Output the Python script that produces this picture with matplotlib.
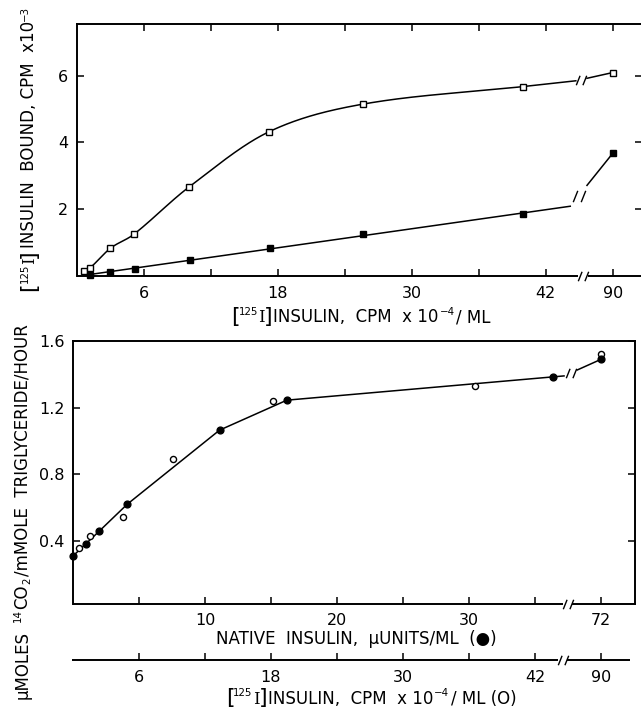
import numpy as np
import matplotlib
matplotlib.use("Agg")
import matplotlib.pyplot as plt
from matplotlib.path import Path
import matplotlib.transforms as mtransforms

plt.rcParams['font.family'] = ['DejaVu Sans']

# ---------------- data ----------------
# top panel: [125I]insulin added (CPM x 1e-4/ML) vs bound (CPM x 1e-3)
top_open_x = [0.6, 1.2, 3.0, 5.1, 10.0, 17.2, 25.6, 40.0, 90.0]
top_open_y = [0.15, 0.24, 0.82, 1.24, 2.65, 4.32, 5.15, 5.68, 6.10]
top_filled_x = [1.2, 3.0, 5.2, 10.1, 17.3, 25.6, 40.0, 90.0]
top_filled_y = [0.02, 0.12, 0.19, 0.47, 0.82, 1.25, 1.84, 3.67]
top_xticks = [6, 12, 18, 24, 30, 36, 42, 90]
top_xticklabels = ['6', '', '18', '', '30', '', '42', '90']
top_yticks = [2, 4, 6]

# bottom panel: 14CO2 production
native_x = [0.0, 1.0, 2.0, 4.1, 11.1, 16.2, 36.4, 72.0]
native_y = [0.31, 0.385, 0.46, 0.62, 1.065, 1.245, 1.385, 1.49]
iodo_x = [0.55, 1.5, 4.5, 9.1, 18.2, 36.5, 90.0]
iodo_y = [0.36, 0.43, 0.545, 0.89, 1.24, 1.33, 1.52]
native_xticks = [5, 10, 15, 20, 25, 30, 35, 72]
native_xticklabels = ['', '10', '', '20', '', '30', '', '72']
iodo_xticks = [6, 12, 18, 24, 30, 36, 42, 90]
iodo_xticklabels = ['6', '', '18', '', '30', '', '42', '90']
bottom_yticks = [0.4, 0.8, 1.2, 1.6]

# ---------------- axis-break position mappings ----------------
TOP_BREAK, TOP_POST = 45.0, 48.0
NAT_BREAK, NAT_POST = 37.5, 40.0
IOD_SCALE = 5.0 / 6.0


def top_pos(v):
    v = np.asarray(v, float)
    return np.where(v <= TOP_BREAK, v, TOP_POST)


def nat_pos(v):
    v = np.asarray(v, float)
    return np.where(v <= NAT_BREAK, v, NAT_POST)


def iod_pos(v):
    v = np.asarray(v, float)
    return np.where(v <= TOP_BREAK, v * IOD_SCALE, NAT_POST)


def smooth_curve(x, y, xn):
    """cubic Hermite with centred-difference slopes (Catmull-Rom style)"""
    x = np.asarray(x, float); y = np.asarray(y, float)
    n = len(x); h = np.diff(x)
    m = np.zeros(n)
    m[0] = (y[1] - y[0]) / h[0]
    m[-1] = (y[-1] - y[-2]) / h[-1]
    for k in range(1, n - 1):
        m[k] = (y[k + 1] - y[k - 1]) / (x[k + 1] - x[k - 1])
    out = np.empty_like(xn)
    for i, t in enumerate(xn):
        k = min(max(np.searchsorted(x, t) - 1, 0), n - 2)
        s = (t - x[k]) / h[k]
        h00 = 2 * s**3 - 3 * s**2 + 1
        h10 = s**3 - 2 * s**2 + s
        h01 = -2 * s**3 + 3 * s**2
        h11 = s**3 - s**2
        out[i] = h00 * y[k] + h10 * h[k] * m[k] + h01 * y[k + 1] + h11 * h[k] * m[k + 1]
    return out


brk_path = Path([(-0.55, -0.5), (-0.15, 0.5), (0.15, -0.5), (0.55, 0.5)],
                [Path.MOVETO, Path.LINETO, Path.MOVETO, Path.LINETO])

W, H = 641, 713
fig = plt.figure(figsize=(W / 100, H / 100), dpi=100)
fig.patch.set_facecolor('white')
renderer = fig.canvas.get_renderer()
IDT = mtransforms.IdentityTransform()


def fx(px):
    return px / W


def fy(py):
    return 1 - py / H


LABEL_FS = 12
BIG = dict(fontsize=16, family='DejaVu Sans')
SUP = dict(fontsize=7.4, family='DejaVu Sans')
REG = dict(fontsize=LABEL_FS, family='DejaVu Sans')
SER = dict(fontsize=LABEL_FS, family='DejaVu Serif')


def rich_label(pieces, base_px, center_px, rotation=0):
    """pieces: (text, props, raise_px, gap_px). base_px = baseline (y px for
    horizontal, x px for vertical); center_px = centre along the text."""
    objs, lens = [], []
    for s, props, rz, gap in pieces:
        t = fig.text(0, 0, s, transform=IDT, rotation=rotation, rotation_mode='anchor',
                     ha='left', va='baseline', **props)
        bb = t.get_window_extent(renderer)
        objs.append(t)
        lens.append(bb.width if rotation == 0 else bb.height)
    total = sum(lens) + sum(p[3] for p in pieces[:-1])
    if rotation == 0:
        pos = center_px - total / 2
        for t, L, (s, props, rz, gap) in zip(objs, lens, pieces):
            t.set_position((pos, H - base_px + rz))
            pos += L + gap
    else:
        pos = (H - center_px) - total / 2
        for t, L, (s, props, rz, gap) in zip(objs, lens, pieces):
            t.set_position((base_px - rz, pos))
            pos += L + gap


def iodo_prefix():
    return [('[', BIG, -0.5, -1.5), ('125', SUP, 7.0, 0.3), ('I', SER, 0, -0.5), (']', BIG, -0.5, 0.5)]


LW_SPINE = 1.4
LW_LINE = 1.1
TICK_KW = dict(direction='in', length=4.7, width=1.1, labelsize=11.5, colors='black')

# ================= TOP PANEL =================
ax1 = fig.add_axes([fx(77), fy(275.5), fx(642 - 77), (275.5 - 24) / H])
ax1.set_xlim(0, 50.63)
ax1.set_ylim(0, 7.56)
for s in ['left', 'top']:
    ax1.spines[s].set_linewidth(LW_SPINE)
ax1.spines['right'].set_visible(False)
ax1.spines['bottom'].set_visible(False)
ax1.tick_params(axis='both', which='both', top=True, right=True, **TICK_KW)
ax1.tick_params(axis='x', pad=7.5)
ax1.tick_params(axis='y', pad=6.5)
ax1.set_xticks(top_pos(top_xticks), top_xticklabels)
ax1.set_yticks(top_yticks, [str(v) for v in top_yticks])

trans1 = mtransforms.blended_transform_factory(ax1.transData, ax1.transAxes)
ax_gap1 = (44.9, 45.8)
ax1.plot([0, ax_gap1[0]], [0, 0], color='black', lw=LW_SPINE, transform=trans1, clip_on=False, solid_capstyle='butt')
ax1.plot([ax_gap1[1], 50.63], [0, 0], color='black', lw=LW_SPINE, transform=trans1, clip_on=False, solid_capstyle='butt')
ax1.plot([np.mean(ax_gap1)], [0], marker=brk_path, ms=7.5, mew=1.0, color='black', transform=trans1,
         clip_on=False, linestyle='none')

line_gap1 = (44.7, 45.7)

# open squares: smooth curve
ox = top_pos(top_open_x); oy = np.asarray(top_open_y)
pre = ox < TOP_BREAK
slope_o = (oy[pre][-1] - oy[pre][-2]) / (ox[pre][-1] - ox[pre][-2])
end_o = oy[pre][-1] + slope_o * (line_gap1[0] - ox[pre][-1])
cx = np.append(ox[pre], line_gap1[0]); cy = np.append(oy[pre], end_o)
xs = np.linspace(cx[0], cx[-1], 500)
ax1.plot(xs, smooth_curve(cx, cy, xs), color='black', lw=LW_LINE, zorder=2)
post_o = end_o + (oy[-1] - end_o) * (line_gap1[1] - line_gap1[0]) / (ox[-1] - line_gap1[0])
ax1.plot([line_gap1[1], ox[-1]], [post_o, oy[-1]], color='black', lw=LW_LINE, zorder=2)
ax1.plot([np.mean(line_gap1)], [(end_o + post_o) / 2], marker=brk_path, ms=7.5, mew=1.0,
         color='black', linestyle='none', zorder=2)

# filled squares: fitted straight line
fxp = top_pos(top_filled_x); fyp = np.asarray(top_filled_y)
pre = fxp < TOP_BREAK
coef = np.polyfit(fxp[pre], fyp[pre], 1)
gap_f = (44.2, 45.7)
end_f = np.polyval(coef, gap_f[0])
ax1.plot([fxp[0], gap_f[0]], [np.polyval(coef, fxp[0]), end_f], color='black', lw=LW_LINE, zorder=2)
post_f = end_f + (fyp[-1] - end_f) * (gap_f[1] - gap_f[0]) / (fxp[-1] - gap_f[0])
ax1.plot([gap_f[1], fxp[-1]], [post_f, fyp[-1]], color='black', lw=LW_LINE, zorder=2)
ax1.plot([np.mean(gap_f)], [(end_f + post_f) / 2], marker=brk_path, ms=9, mew=1.0,
         color='black', linestyle='none', zorder=2)

ax1.plot(ox, oy, linestyle='none', marker='s', ms=4.6, mfc='white', mec='black', mew=1.0, zorder=3, clip_on=False)
ax1.plot(fxp, fyp, linestyle='none', marker='s', ms=4.6, mfc='black', mec='black', mew=1.0, zorder=4, clip_on=False)

rich_label(iodo_prefix() + [('INSULIN,  CPM  x 10', REG, 0, 0.8), ('\u22124', SUP, 7.0, 1.5),
                            ('/ ML', REG, 0, 0)], base_px=322, center_px=361)
rich_label(iodo_prefix() + [('INSULIN  BOUND, CPM  x10', REG, 0, 0.8), ('\u22123', SUP, 7.0, 0)],
           base_px=34.5, center_px=148, rotation=90)

# ================= BOTTOM PANEL =================
BX0, BX1 = 73, 635
ax2 = fig.add_axes([fx(BX0), fy(603.5), fx(BX1 - BX0), (603.5 - 341) / H])
XMAX2 = (BX1 - BX0) / 13.2
ax2.set_xlim(0, XMAX2)
ax2.set_ylim(0.025, 1.6)
for s in ['left', 'top', 'right']:
    ax2.spines[s].set_linewidth(LW_SPINE)
ax2.spines['bottom'].set_visible(False)
ax2.tick_params(axis='both', which='both', right=True, **TICK_KW)
ax2.tick_params(axis='x', pad=7.0)
ax2.tick_params(axis='y', pad=6.0)
ax2.set_xticks(nat_pos(native_xticks), native_xticklabels)
ax2.set_yticks(bottom_yticks, [f'{v:.1f}' for v in bottom_yticks])

trans2 = mtransforms.blended_transform_factory(ax2.transData, ax2.transAxes)
ax_gap2 = (37.1, 37.9)
ax2.plot([0, ax_gap2[0]], [0, 0], color='black', lw=LW_SPINE, transform=trans2, clip_on=False, solid_capstyle='butt')
ax2.plot([ax_gap2[1], XMAX2], [0, 0], color='black', lw=LW_SPINE, transform=trans2, clip_on=False, solid_capstyle='projecting')
ax2.plot([np.mean(ax_gap2)], [0], marker=brk_path, ms=7.5, mew=1.0, color='black', transform=trans2,
         clip_on=False, linestyle='none')

nx = nat_pos(native_x); ny = np.asarray(native_y)
pre = nx < NAT_BREAK
line_gap2 = (37.2, 38.2)
slope_n = (ny[pre][-1] - ny[pre][-2]) / (nx[pre][-1] - nx[pre][-2])
end_n = ny[pre][-1] + slope_n * (line_gap2[0] - nx[pre][-1])
ax2.plot(np.append(nx[pre], line_gap2[0]), np.append(ny[pre], end_n), color='black', lw=LW_LINE, zorder=2)
post_n = end_n + (ny[-1] - end_n) * (line_gap2[1] - line_gap2[0]) / (nx[-1] - line_gap2[0])
ax2.plot([line_gap2[1], nx[-1]], [post_n, ny[-1]], color='black', lw=LW_LINE, zorder=2)
ax2.plot([np.mean(line_gap2)], [(end_n + post_n) / 2], marker=brk_path, ms=7.5, mew=1.0,
         color='black', linestyle='none', zorder=2)

ax2.plot(iod_pos(iodo_x), iodo_y, linestyle='none', marker='o', ms=4.4, mfc='white', mec='black',
         mew=1.0, zorder=3, clip_on=False)
ax2.plot(nx, ny, linestyle='none', marker='o', ms=4.9, mfc='black', mec='black', mew=1.0, zorder=4,
         clip_on=False)

rich_label([('NATIVE  INSULIN,  µUNITS/ML  (\u25CF)', REG, 0, 0)], base_px=644.5, center_px=356)

# second (iodo-insulin) axis
ax3 = fig.add_axes([fx(BX0), fy(660), fx(BX1 - BX0), 0.0001])
ax3.set_xlim(0, XMAX2)
ax3.set_ylim(0, 1)
for s in ax3.spines.values():
    s.set_visible(False)
ax3.patch.set_visible(False)
ax3.set_yticks([])
ax3.tick_params(axis='x', which='both', **TICK_KW)
ax3.tick_params(axis='x', pad=7.0)
ax3.set_xticks(iod_pos(iodo_xticks), iodo_xticklabels)
trans3 = mtransforms.blended_transform_factory(ax3.transData, ax3.transAxes)
ax_gap3 = (36.75, 37.45)
x3_end = (630 - BX0) / 13.2
ax3.plot([-0.08, ax_gap3[0]], [0, 0], color='black', lw=LW_SPINE, transform=trans3, clip_on=False, solid_capstyle='butt')
ax3.plot([ax_gap3[1], x3_end], [0, 0], color='black', lw=LW_SPINE, transform=trans3, clip_on=False, solid_capstyle='butt')
ax3.plot([np.mean(ax_gap3)], [0], marker=brk_path, ms=7.5, mew=1.0, color='black', transform=trans3,
         clip_on=False, linestyle='none')

rich_label(iodo_prefix() + [('INSULIN,  CPM  x 10', REG, 0, 0.8), ('\u22124', SUP, 7.0, 1.5),
                            ('/ ML (O)', REG, 0, 0)], base_px=703.5, center_px=371)
rich_label([('µMOLES', REG, 0, 9), ('14', SUP, 6.8, 0.8), ('CO', REG, 0, 0.5), ('2', SUP, -3.0, 0.8),
            ('/mMOLE  TRIGLYCERIDE/HOUR', REG, 0, 0)], base_px=27.5, center_px=512, rotation=90)

fig.savefig('out.png', dpi=100, facecolor='white')
